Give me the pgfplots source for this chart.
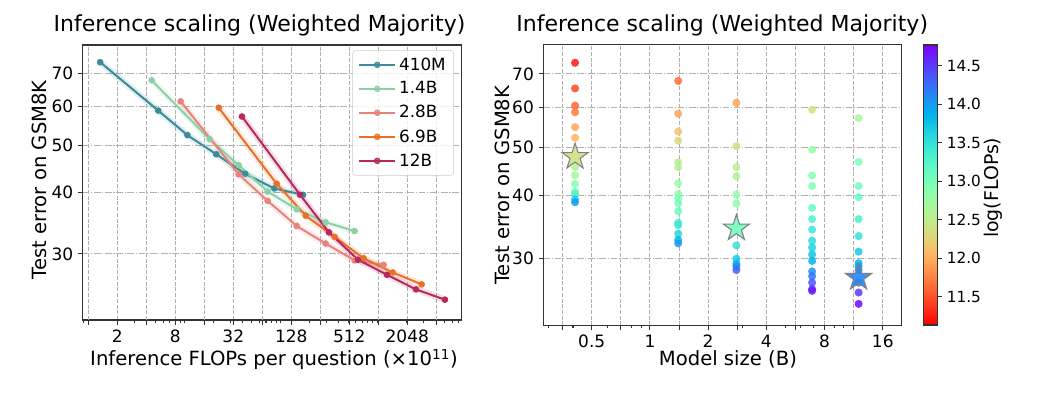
\documentclass[border=0pt]{standalone}
\usepackage{pgfplots}
\pgfplotsset{compat=1.18}
\usepackage{pgfplotstable}
\usepackage{fontspec}
\setmainfont{DejaVu Sans}

\definecolor{c410}{RGB}{58,140,154}
\definecolor{c14}{RGB}{140,208,165}
\definecolor{c28}{RGB}{232,131,123}
\definecolor{c69}{RGB}{234,112,42}
\definecolor{c12}{RGB}{183,40,94}
\definecolor{gridc}{RGB}{176,176,176}

% filled five-pointed star marker
\pgfdeclareplotmark{fstar}{%
  \pgfpathmoveto{\pgfpointpolar{90}{\pgfplotmarksize}}%
  \pgfpathlineto{\pgfpointpolar{126}{0.382\pgfplotmarksize}}%
  \pgfpathlineto{\pgfpointpolar{162}{\pgfplotmarksize}}%
  \pgfpathlineto{\pgfpointpolar{198}{0.382\pgfplotmarksize}}%
  \pgfpathlineto{\pgfpointpolar{234}{\pgfplotmarksize}}%
  \pgfpathlineto{\pgfpointpolar{270}{0.382\pgfplotmarksize}}%
  \pgfpathlineto{\pgfpointpolar{306}{\pgfplotmarksize}}%
  \pgfpathlineto{\pgfpointpolar{342}{0.382\pgfplotmarksize}}%
  \pgfpathlineto{\pgfpointpolar{18}{\pgfplotmarksize}}%
  \pgfpathlineto{\pgfpointpolar{54}{0.382\pgfplotmarksize}}%
  \pgfpathclose
  \pgfusepathqfillstroke}

% vertical rainbow scale (red at the bottom, violet at the top), fitted to the path
\pgfdeclareverticalshading{rainbowv}{100bp}{%
  rgb(0bp)=(1,0,0); rgb(25bp)=(1,0,0); rgb(28.125bp)=(1,0.195,0.098);
  rgb(31.25bp)=(1,0.383,0.195); rgb(34.375bp)=(1,0.556,0.290);
  rgb(37.5bp)=(1,0.707,0.383); rgb(40.625bp)=(0.875,0.831,0.471);
  rgb(43.75bp)=(0.75,0.924,0.556); rgb(46.875bp)=(0.625,0.981,0.634);
  rgb(50bp)=(0.5,1,0.707); rgb(53.125bp)=(0.375,0.981,0.773);
  rgb(56.25bp)=(0.25,0.924,0.831); rgb(59.375bp)=(0.125,0.831,0.882);
  rgb(62.5bp)=(0,0.707,0.924); rgb(65.625bp)=(0.125,0.556,0.957);
  rgb(68.75bp)=(0.25,0.383,0.981); rgb(71.875bp)=(0.375,0.195,0.995);
  rgb(75bp)=(0.5,0,1); rgb(100bp)=(0.5,0,1)}

% inference FLOPs (x 1e11) vs. test error, one table per model
\pgfplotstableread{
x y
1.33 73.8
5.33 58.8
10.7 52.4
21.3 47.9
42.6 43.7
85.2 40.8
170 39.6
}\tabA
\pgfplotstableread{
x y
4.55 67.8
18.2 51.4
36.4 45.5
72.8 40.2
146 37.0
291 34.8
582 33.4
}\tabB
\pgfplotstableread{
x y
9.1 61.4
36.4 43.6
72.8 38.5
146 34.2
291 31.5
582 29.1
1165 28.5
}\tabC
\pgfplotstableread{
x y
22.6 59.6
90.3 41.7
181 35.9
361 32.5
722 29.4
1445 27.5
2890 26.0
}\tabD
\pgfplotstableread{
x y
39.4 57.2
158 39.6
315 33.2
630 29.2
1260 27.2
2520 25.4
5040 24.2
}\tabE

% model size, test error, log10(FLOPs)
\pgfplotstableread{
x y c
0.41 73.7 11.25
0.41 65.5 11.45
0.41 60.5 11.60
0.41 58.7 11.70
0.41 54.8 11.95
0.41 52.2 12.05
0.41 45.6 12.60
0.41 43.9 12.70
0.41 42.2 12.85
0.41 40.7 13.05
0.41 40.3 13.30
0.41 39.3 13.70
0.41 38.8 14.00
1.4 67.8 11.65
1.4 58.3 11.95
1.4 53.7 12.15
1.4 51.5 12.30
1.4 46.6 12.50
1.4 45.6 12.55
1.4 42.3 12.75
1.4 40.3 12.85
1.4 39.5 12.95
1.4 38.6 13.05
1.4 37.2 13.10
1.4 35.3 13.35
1.4 34.9 13.45
1.4 33.55 13.60
1.4 32.6 13.85
1.4 32.1 14.00
2.8 61.3 11.95
2.8 50.2 12.35
2.8 45.6 12.55
2.8 43.7 12.60
2.8 40.2 12.80
2.8 38.6 12.85
2.8 31.8 13.50
2.8 29.9 13.70
2.8 29.2 13.85
2.8 28.9 14.10
2.8 28.4 14.30
6.9 59.4 12.40
6.9 49.4 12.75
6.9 43.9 12.90
6.9 41.8 12.95
6.9 37.8 13.15
6.9 35.9 13.30
6.9 34.2 13.45
6.9 32.5 13.55
6.9 31.5 13.65
6.9 30.5 13.75
6.9 29.6 13.85
6.9 28.2 14.05
6.9 27.6 14.20
6.9 26.8 14.35
6.9 26.0 14.55
6.9 25.8 14.65
12 57.1 12.65
12 46.7 12.95
12 41.8 13.05
12 39.7 13.15
12 35.9 13.35
12 33.2 13.50
12 30.9 13.70
12 29.3 13.85
12 28.9 14.00
12 28.4 14.10
12 26.8 14.25
12 25.6 14.50
12 24.3 14.75
}\tabS
\pgfplotstableread{
x y c
0.41 47.8 12.38
2.8 34.4 13.05
12 27.4 14.12
}\tabStar

\pgfplotsset{
  colormap={rainbowr}{
    rgb=(1,0,0) rgb=(1,0.195,0.098) rgb=(1,0.383,0.195) rgb=(1,0.556,0.290)
    rgb=(1,0.707,0.383) rgb=(0.875,0.831,0.471) rgb=(0.75,0.924,0.556)
    rgb=(0.625,0.981,0.634) rgb=(0.5,1,0.707) rgb=(0.375,0.981,0.773)
    rgb=(0.25,0.924,0.831) rgb=(0.125,0.831,0.882) rgb=(0,0.707,0.924)
    rgb=(0.125,0.556,0.957) rgb=(0.25,0.383,0.981) rgb=(0.375,0.195,0.995)
    rgb=(0.5,0,1)},
  every axis/.append style={
    scale only axis,
    axis line style={black!80, line width=0.8pt},
    tick style={black!80, line width=0.8pt},
    tick align=outside,
    major tick length=3.6pt, minor tick length=2.1pt,
    major x grid style={gridc, line width=0.8pt, dash pattern=on 3pt off 1.3pt},
    major y grid style={gridc, line width=0.8pt, dash pattern=on 5pt off 1.3pt on 0.8pt off 1.3pt},
    tick label style={font=\fontsize{12.75}{14}\selectfont},
    label style={font=\fontsize{14.7}{17}\selectfont},
    title style={font=\fontsize{16.5}{19}\selectfont, anchor=base},
  },
}

\begin{document}
\begin{tikzpicture}
\useasboundingbox (0,0) rectangle (784.5pt,303pt);

% ---------- inference FLOPs vs. error ----------
\begin{axis}[
  at={(62.0pt,63.0pt)}, anchor=south west,
  width=284.25pt, height=206.25pt,
  xmode=log, ymode=log,
  xmin=0.875, xmax=7517, ymin=22, ymax=80,
  xtick={2,8,32,128,512,2048},
  xticklabels={2,8,32,128,512,2048},
  ytick={30,40,50,60,70},
  yticklabels={30,40,50,60,70},
  minor ytick={},
  xtick pos=bottom, ytick pos=left,
  grid=major,
  extra x ticks={1,4,16,64,256,1024,4096},
  extra x tick labels={},
  extra x tick style={grid=major},
  minor xtick={0.9,3,5,6,7,9,10,20,30,40,50,60,70,80,90,100,200,300,400,500,600,700,800,900,1000,2000,3000,5000,6000,7000},
  title={Inference scaling (Weighted Majority)},
  title style={at={(axis description cs:0.4665,1)}, yshift=4.3pt},
  xlabel={Inference FLOPs per question (×10\textsuperscript{11})},
  xlabel style={at={(axis description cs:0.505,0)}, anchor=base, yshift=-34.5pt},
  ylabel={Test error on GSM8K},
  ylabel style={at={(axis description cs:-0.1154,0.51)}, anchor=center},
  legend style={at={(axis description cs:0.9797,0.9818)}, anchor=north east,
    draw=black!20, fill=white, fill opacity=0.8, text opacity=1,
    rounded corners=2.5pt, font=\fontsize{12.6}{14}\selectfont,
    inner xsep=4pt, inner ysep=3.5pt, row sep=3.2pt},
  legend cell align=left,
  legend image code/.code={\draw[mark repeat=2,mark phase=2] plot coordinates {(0pt,0pt) (13.7pt,0pt) (27.4pt,0pt)};},
]
\addplot[forget plot, no marks, line width=5pt, opacity=0.15, c410] table[x=x,y=y]{\tabA};
\addplot[forget plot, no marks, line width=5pt, opacity=0.15, c14] table[x=x,y=y]{\tabB};
\addplot[forget plot, no marks, line width=5pt, opacity=0.15, c28] table[x=x,y=y]{\tabC};
\addplot[forget plot, no marks, line width=5pt, opacity=0.15, c69] table[x=x,y=y]{\tabD};
\addplot[forget plot, no marks, line width=5pt, opacity=0.15, c12] table[x=x,y=y]{\tabE};
\addplot[c410, line width=1.5pt, mark=*, mark size=2.2pt, mark options={line width=0.5pt}] table[x=x,y=y]{\tabA};
\addlegendentry{410M}
\addplot[c14, line width=1.5pt, mark=*, mark size=2.2pt, mark options={line width=0.5pt}] table[x=x,y=y]{\tabB};
\addlegendentry{1.4B}
\addplot[c28, line width=1.5pt, mark=*, mark size=2.2pt, mark options={line width=0.5pt}] table[x=x,y=y]{\tabC};
\addlegendentry{2.8B}
\addplot[c69, line width=1.5pt, mark=*, mark size=2.2pt, mark options={line width=0.5pt}] table[x=x,y=y]{\tabD};
\addlegendentry{6.9B}
\addplot[c12, line width=1.5pt, mark=*, mark size=2.2pt, mark options={line width=0.5pt}] table[x=x,y=y]{\tabE};
\addlegendentry{12B}
\end{axis}

% ---------- model size vs. error, coloured by compute ----------
\begin{axis}[
  at={(407.5pt,58.9pt)}, anchor=south west,
  width=268.3pt, height=210.4pt,
  xmode=log, ymode=log,
  xmin=0.281, xmax=19.9, ymin=22, ymax=80,
  xtick={0.5,1,2,4,8,16},
  xticklabels={0.5,1,2,4,8,16},
  ytick={30,40,50,60,70},
  yticklabels={30,40,50,60,70},
  minor ytick={},
  xtick pos=bottom, ytick pos=left,
  grid=major,
  extra x ticks={0.3536,0.7071,1.4142,2.8284,5.6569,11.314},
  extra x tick labels={},
  extra x tick style={grid=major},
  minor xtick={0.3,0.4,0.6,0.8,0.9,3,5,6,7,9,10},
  title={Inference scaling (Weighted Majority)},
  title style={at={(axis description cs:0.5,1)}, yshift=4.3pt},
  xlabel={Model size (B)},
  xlabel style={at={(axis description cs:0.516,0)}, anchor=base, yshift=-30.4pt},
  ylabel={Test error on GSM8K},
  ylabel style={at={(axis description cs:-0.1155,0.50)}, anchor=center},
  colormap name=rainbowr,
  point meta min=11.13, point meta max=14.77,
]
\addplot[scatter, only marks, mark=*, mark size=3.05pt, scatter src=explicit,
  scatter/use mapped color={draw=mapped color, fill=mapped color, draw opacity=0, fill opacity=0.85}]
  table[x=x,y=y,meta=c]{\tabS};
\addplot[scatter, only marks, mark=fstar, mark size=10.3pt, scatter src=explicit,
  scatter/use mapped color={draw=black!50, fill=mapped color, line width=0.8pt, fill opacity=0.9}]
  table[x=x,y=y,meta=c]{\tabStar};
\end{axis}

% ---------- colour scale for log(FLOPs) ----------
\begin{axis}[
  at={(692.5pt,59.25pt)}, anchor=south west,
  width=10.5pt, height=210pt,
  xmin=0, xmax=1, ymin=11.13, ymax=14.77,
  xtick=\empty,
  ytick={11.5,12,12.5,13,13.5,14,14.5},
  ytick pos=right, yticklabel pos=right,
  axis on top,
  yticklabel style={font=\fontsize{11.5}{13}\selectfont,
    /pgf/number format/fixed, /pgf/number format/fixed zerofill,
    /pgf/number format/precision=1, /pgf/number format/assume math mode=true},
  ylabel={log(FLOPs)},
  ylabel style={at={(axis description cs:4.98,0.49)}, anchor=center,
    font=\fontsize{14.2}{17}\selectfont},
]
\fill[shading=rainbowv] (axis cs:0,11.13) rectangle (axis cs:1,14.77);
\end{axis}
\end{tikzpicture}
\end{document}
